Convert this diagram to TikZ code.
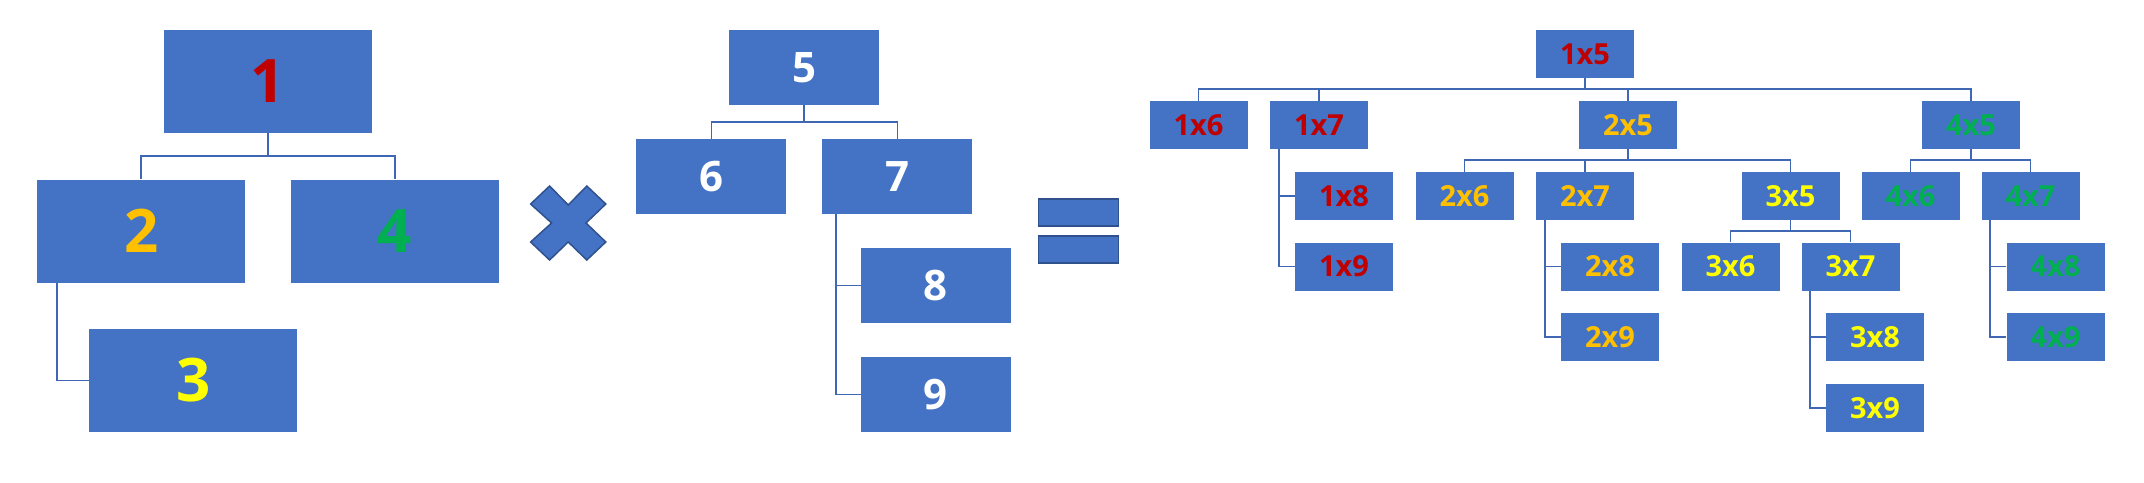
\documentclass[tikz,border=0pt]{standalone}
\usepackage{fontspec}
\setmainfont{Open Sans}
\definecolor{boxblue}{HTML}{4472C4}
\definecolor{lineblue}{HTML}{3F67B3}
\definecolor{symedge}{HTML}{2F528F}
\definecolor{cred}{HTML}{C00000}
\definecolor{corange}{HTML}{FFC000}
\definecolor{cyellow}{HTML}{FFFF00}
\definecolor{cgreen}{HTML}{00B050}
\begin{document}
\begin{tikzpicture}[x=1pt,y=-1pt,
 box/.style={fill=boxblue, inner sep=0pt},
 L/.style={box, minimum width=208pt, minimum height=103pt, font=\bfseries\fontsize{60}{60}\selectfont},
 M/.style={box, minimum width=150pt, minimum height=75pt, font=\bfseries\fontsize{42}{42}\selectfont, text=white},
 R/.style={box, minimum width=98pt, minimum height=48pt, font=\bfseries\fontsize{29}{29}\selectfont},
 t1/.style={text=cred}, t2/.style={text=corange}, t3/.style={text=cyellow}, t4/.style={text=cgreen},
 link/.style={draw=lineblue, line width=1.8pt},
 sym/.style={fill=boxblue, draw=symedge, line width=1.5pt, line join=miter}]
\useasboundingbox (0,0) rectangle (2144,482);
% left tree
\node[L,t1] (n1) at (268,81.5) {1};
\node[L,t2] (n2) at (141.2,231) {2};
\node[L,t4] (n4) at (395,231) {4};
\node[L,t3] (n3) at (193.4,380.5) {3};
\draw[link] (n1.south) -- ++(0,23) -| (n2.north);
\draw[link] (n1.south) -- ++(0,23) -| (n4.north);
\draw[link] ([xshift=20pt]n2.south west) |- (n3.west);
% multiply sign
\draw[sym] (549.6,186) -- (568.2,205) -- (586.8,186) -- (605.8,204) -- (586,223) -- (605.8,242) -- (586.8,260) -- (568.2,242) -- (549.6,260) -- (530.6,242) -- (551.6,223) -- (530.6,204) -- cycle;
% middle tree
\node[M] (n5) at (804.3,67.5) {5};
\node[M] (n6) at (711.4,176.5) {6};
\node[M] (n7) at (897.4,176.5) {7};
\node[M] (n8) at (935.8,285.5) {8};
\node[M] (n9) at (935.8,394.5) {9};
\draw[link] (n5.south) -- ++(0,17) -| (n6.north);
\draw[link] (n5.south) -- ++(0,17) -| (n7.north);
\draw[link] ([xshift=14pt]n7.south west) |- (n8.west);
\draw[link] ([xshift=14pt]n7.south west) |- (n9.west);
% equals sign
\draw[sym] (1038.4,199) rectangle (1118.6,226);
\draw[sym] (1038.4,236) rectangle (1118.6,263);
% right tree
\node[R,t1] (r15) at (1585,54) {1x5};
\node[R,t1] (r16) at (1198.5,125) {1x6};
\node[R,t1] (r17) at (1319,125) {1x7};
\node[R,t2] (r25) at (1628,125) {2x5};
\node[R,t4] (r45) at (1971,125) {4x5};
\node[R,t1] (r18) at (1344,196) {1x8};
\node[R,t2] (r26) at (1464.5,196) {2x6};
\node[R,t2] (r27) at (1585,196) {2x7};
\node[R,t3] (r35) at (1790.5,196) {3x5};
\node[R,t4] (r46) at (1910.5,196) {4x6};
\node[R,t4] (r47) at (2030.5,196) {4x7};
\node[R,t1] (r19) at (1344,266.5) {1x9};
\node[R,t2] (r28) at (1610,266.5) {2x8};
\node[R,t3] (r36) at (1730.5,266.5) {3x6};
\node[R,t3] (r37) at (1850.5,266.5) {3x7};
\node[R,t4] (r48) at (2055.5,266.5) {4x8};
\node[R,t2] (r29) at (1610,337) {2x9};
\node[R,t3] (r38) at (1875,337) {3x8};
\node[R,t4] (r49) at (2055.5,337) {4x9};
\node[R,t3] (r39) at (1875,408) {3x9};
\foreach \c in {r16,r17,r25,r45} \draw[link] (r15.south) -- ++(0,11) -| (\c.north);
\foreach \c in {r26,r27,r35} \draw[link] (r25.south) -- ++(0,11) -| (\c.north);
\foreach \c in {r46,r47} \draw[link] (r45.south) -- ++(0,11) -| (\c.north);
\foreach \c in {r36,r37} \draw[link] (r35.south) -- ++(0,11) -| (\c.north);
\foreach \c in {r18,r19} \draw[link] ([xshift=9pt]r17.south west) |- (\c.west);
\foreach \c in {r28,r29} \draw[link] ([xshift=9pt]r27.south west) |- (\c.west);
\foreach \c in {r38,r39} \draw[link] ([xshift=9pt]r37.south west) |- (\c.west);
\foreach \c in {r48,r49} \draw[link] ([xshift=9pt]r47.south west) |- (\c.west);
\end{tikzpicture}
\end{document}
